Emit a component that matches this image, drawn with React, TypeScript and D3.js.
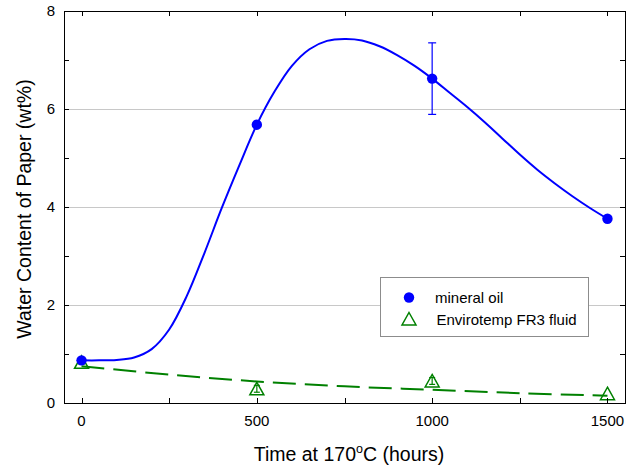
import { useEffect, useRef } from 'react';
import * as d3 from 'd3';

// measured points
const hours = [0, 500, 1000, 1500];
const mineralOil = [0.87, 5.68, 6.62, 3.76];
const mineralOilErr = [0, 0, 0.73, 0];
const fr3 = [0.83, 0.29, 0.45, 0.19];
const fr3Err = [0.04, 0.07, 0.07, 0];

// fitted curves
const mineralFitHours = [0, 50, 100, 150, 200, 250, 300, 350, 400, 450, 500, 550, 600, 650, 700, 750, 800,
  850, 900, 950, 1000, 1050, 1100, 1150, 1200, 1250, 1300, 1350, 1400, 1450, 1500];
const mineralFit = [0.87, 0.87, 0.88, 0.93, 1.1, 1.5, 2.18, 3.05, 3.98, 4.85, 5.68, 6.35, 6.88, 7.22, 7.39,
  7.43, 7.4, 7.28, 7.1, 6.88, 6.62, 6.33, 6.04, 5.73, 5.4, 5.07, 4.76, 4.48, 4.22, 3.98, 3.76];
const fr3FitHours = [0, 250, 500, 750, 1000, 1250, 1500];
const fr3Fit = [0.75, 0.58, 0.44, 0.34, 0.27, 0.2, 0.15];

const xTicks = [0, 250, 500, 750, 1000, 1250, 1500];
const xLabels = [0, 500, 1000, 1500];
const yTicks = [0, 1, 2, 3, 4, 5, 6, 7, 8];
const yLabels = [0, 2, 4, 6, 8];
const gridValues = [2, 4, 6];
const seriesNames = ['mineral oil', 'Envirotemp FR3 fluid'];

const BLUE = '#0000ff';
const GREEN = '#008000';
const FONT = 'Arial, "Liberation Sans", sans-serif';

const triangle = 'M0,-7L7,5.5L-7,5.5Z';

export default function App() {
  const ref = useRef<SVGSVGElement>(null);

  useEffect(() => {
    document.body.style.margin = '0';
    const svg = d3.select(ref.current);
    svg.selectAll('*').remove();

    const left = 64, right = 625, top = 11, bottom = 403;
    const x = d3.scaleLinear().domain([-50, 1550]).range([left, right]);
    const y = d3.scaleLinear().domain([0, 8]).range([bottom, top]);

    svg.append('rect').attr('width', 634).attr('height', 468).attr('fill', '#fff');

    // grid
    svg.append('g').selectAll('line').data(gridValues).enter().append('line')
      .attr('x1', left).attr('x2', right)
      .attr('y1', d => y(d) + 0.5).attr('y2', d => y(d) + 0.5)
      .attr('stroke', '#c8c8c8').attr('stroke-width', 1);

    // fitted lines
    const mPts = mineralFitHours.map((h, i) => [h, mineralFit[i]] as [number, number]);
    const fPts = fr3FitHours.map((h, i) => [h, fr3Fit[i]] as [number, number]);
    const line = d3.line<[number, number]>()
      .x(d => x(d[0])).y(d => y(d[1]))
      .curve(d3.curveCatmullRom);

    svg.append('path').attr('d', line(fPts)).attr('fill', 'none')
      .attr('stroke', GREEN).attr('stroke-width', 2).attr('stroke-dasharray', '23,9');
    svg.append('path').attr('d', line(mPts)).attr('fill', 'none')
      .attr('stroke', BLUE).attr('stroke-width', 2);

    // error bars
    const errBars = (vals: number[], errs: number[], color: string, cap: number) => {
      const g = svg.append('g').attr('stroke', color).attr('stroke-width', 1.2);
      hours.forEach((h, i) => {
        if (!errs[i]) return;
        const cx = x(h);
        g.append('line').attr('x1', cx).attr('x2', cx)
          .attr('y1', y(vals[i] + errs[i])).attr('y2', y(vals[i] - errs[i]));
        [vals[i] + errs[i], vals[i] - errs[i]].forEach(v => {
          g.append('line').attr('x1', cx - cap).attr('x2', cx + cap)
            .attr('y1', y(v)).attr('y2', y(v));
        });
      });
    };
    errBars(fr3, fr3Err, GREEN, 3);
    errBars(mineralOil, mineralOilErr, BLUE, 4);

    // markers
    svg.append('g').selectAll('path').data(hours).enter().append('path')
      .attr('d', triangle)
      .attr('transform', (d, i) => `translate(${x(d)},${y(fr3[i]) + 0.5})`)
      .attr('fill', 'none').attr('stroke', GREEN).attr('stroke-width', 1.5);
    svg.append('g').selectAll('circle').data(hours).enter().append('circle')
      .attr('cx', d => x(d)).attr('cy', (d, i) => y(mineralOil[i]))
      .attr('r', 5.2).attr('fill', BLUE);

    // frame + ticks
    const frame = svg.append('g').attr('stroke', '#000').attr('stroke-width', 1).attr('shape-rendering', 'crispEdges');
    frame.append('rect').attr('x', left + 0.5).attr('y', top + 0.5)
      .attr('width', right - left).attr('height', bottom - top).attr('fill', 'none');
    xTicks.forEach(t => {
      const px = Math.round(x(t)) + 0.5;
      frame.append('line').attr('x1', px).attr('x2', px).attr('y1', bottom).attr('y2', bottom - 5);
      frame.append('line').attr('x1', px).attr('x2', px).attr('y1', top).attr('y2', top + 5);
    });
    yTicks.forEach(t => {
      const py = Math.round(y(t)) + 0.5;
      frame.append('line').attr('x1', left).attr('x2', left + 5).attr('y1', py).attr('y2', py);
      frame.append('line').attr('x1', right).attr('x2', right - 5).attr('y1', py).attr('y2', py);
    });

    // tick labels
    svg.append('g').selectAll('text').data(xLabels).enter().append('text')
      .attr('x', d => x(d)).attr('y', 425.5).attr('text-anchor', 'middle')
      .attr('font-family', FONT).attr('font-size', 15).attr('fill', '#000')
      .text(d => d);
    svg.append('g').selectAll('text').data(yLabels).enter().append('text')
      .attr('x', 55).attr('y', d => y(d)).attr('dy', '0.36em').attr('text-anchor', 'end')
      .attr('font-family', FONT).attr('font-size', 15).attr('fill', '#000')
      .text(d => d);

    // axis titles
    const xt = svg.append('text').attr('x', 349).attr('y', 461).attr('text-anchor', 'middle')
      .attr('font-family', FONT).attr('font-size', 19.5).attr('fill', '#000');
    xt.append('tspan').text('Time at 170');
    xt.append('tspan').attr('dy', -8).attr('font-size', 12.5).text('o');
    xt.append('tspan').attr('dy', 8).text('C (hours)');

    svg.append('text').attr('transform', 'translate(31,209) rotate(-90)')
      .attr('text-anchor', 'middle').attr('font-family', FONT).attr('font-size', 19.5).attr('fill', '#000')
      .text('Water Content of Paper (wt%)');

    // legend
    const lg = svg.append('g');
    lg.append('rect').attr('x', 380.5).attr('y', 277.5).attr('width', 208).attr('height', 59)
      .attr('fill', '#fff').attr('stroke', '#8c8c8c').attr('stroke-width', 1);
    lg.append('circle').attr('cx', 409).attr('cy', 297.5).attr('r', 5.2).attr('fill', BLUE);
    lg.append('path').attr('d', triangle).attr('transform', 'translate(409,319.5)')
      .attr('fill', 'none').attr('stroke', GREEN).attr('stroke-width', 1.5);
    lg.append('text').attr('x', 435).attr('y', 303).attr('font-family', FONT).attr('font-size', 15)
      .attr('fill', '#000').text(seriesNames[0]);
    lg.append('text').attr('x', 436.5).attr('y', 325).attr('font-family', FONT).attr('font-size', 15)
      .attr('fill', '#000').text(seriesNames[1]);
  }, []);

  return <svg ref={ref} width={634} height={468} style={{ display: 'block' }}></svg>;
}
